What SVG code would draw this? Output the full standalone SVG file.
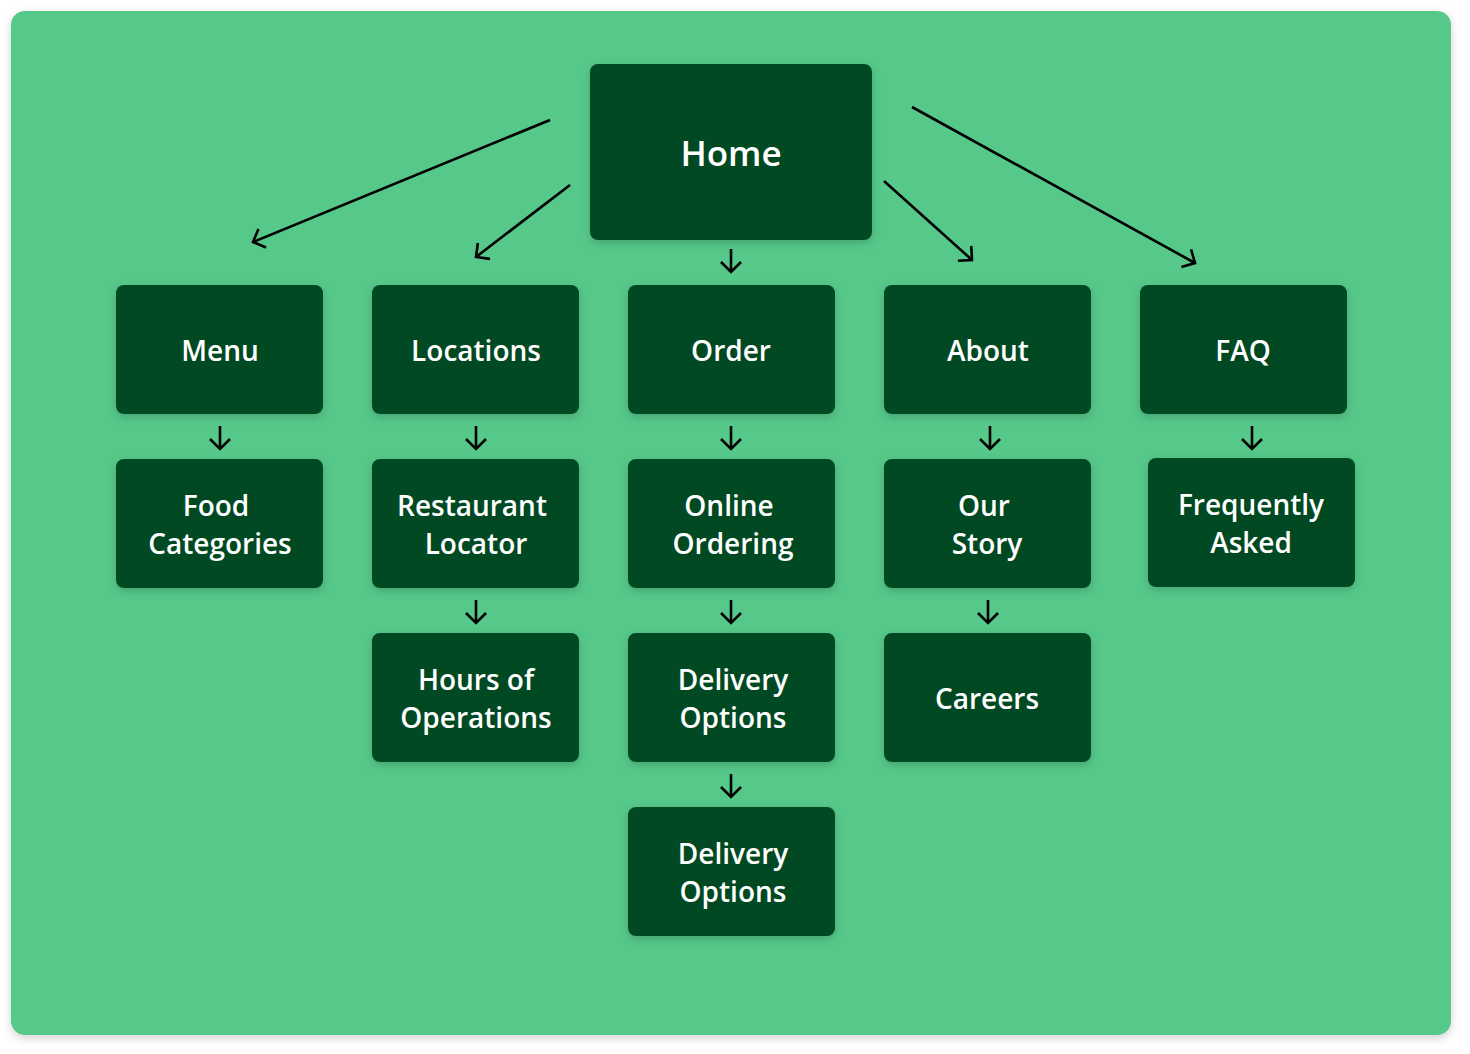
<svg xmlns="http://www.w3.org/2000/svg" width="1470" height="1054" viewBox="0 0 1470 1054">
<style>
.node rect{fill:#064A23;filter:url(#sh)}
.node text{fill:#FFFFFF;font-family:"Open Sans","Noto Sans",sans-serif;font-size:28px;font-weight:600;text-anchor:middle}
.edge{stroke:#000;stroke-width:2.6;fill:none;marker-end:url(#ah)}
</style>
<defs>
<filter id="sh" x="-20%" y="-20%" width="140%" height="150%">
<feDropShadow dx="0" dy="3" stdDeviation="4" flood-color="#000" flood-opacity="0.18"/>
</filter>
<filter id="bgsh" x="-5%" y="-5%" width="110%" height="110%">
<feDropShadow dx="0" dy="3" stdDeviation="5" flood-color="#000" flood-opacity="0.18"/>
</filter>
<marker id="ah" markerUnits="userSpaceOnUse" markerWidth="30" markerHeight="30" refX="15" refY="15" orient="auto" overflow="visible">
<path d="M5,5 L15,15 L5,25" fill="none" stroke="#000" stroke-width="2.6" stroke-linecap="butt" stroke-linejoin="miter"/>
</marker>
</defs>
<rect x="11" y="11" width="1440" height="1024" rx="14" fill="#57C88A" filter="url(#bgsh)"/>
<g id="connectors">
<line class="edge" x1="550" y1="120" x2="253" y2="242"/>
<line class="edge" x1="570" y1="185" x2="476" y2="257"/>
<line class="edge" x1="884" y1="181" x2="972" y2="260"/>
<line class="edge" x1="912" y1="107" x2="1195" y2="263"/>
<line class="edge" x1="731" y1="249" x2="731" y2="272"/>
<line class="edge" x1="220" y1="426" x2="220" y2="449"/>
<line class="edge" x1="476" y1="426" x2="476" y2="449"/>
<line class="edge" x1="731" y1="426" x2="731" y2="449"/>
<line class="edge" x1="990" y1="426" x2="990" y2="449"/>
<line class="edge" x1="1252" y1="426" x2="1252" y2="449"/>
<line class="edge" x1="476" y1="600" x2="476" y2="623"/>
<line class="edge" x1="731" y1="600" x2="731" y2="623"/>
<line class="edge" x1="988" y1="600" x2="988" y2="623"/>
<line class="edge" x1="731" y1="774" x2="731" y2="797"/>
</g>
<g id="home" class="node"><rect x="590" y="64" width="282" height="176" rx="8"/><text x="731" y="166" style="font-size:35px">Home</text></g>
<g id="menu" class="node"><rect x="116" y="285" width="207" height="129" rx="8"/><text x="220" y="361">Menu</text></g>
<g id="locations" class="node"><rect x="372" y="285" width="207" height="129" rx="8"/><text x="476" y="361">Locations</text></g>
<g id="order" class="node"><rect x="628" y="285" width="207" height="129" rx="8"/><text x="731" y="361">Order</text></g>
<g id="about" class="node"><rect x="884" y="285" width="207" height="129" rx="8"/><text x="988" y="361">About</text></g>
<g id="faq" class="node"><rect x="1140" y="285" width="207" height="129" rx="8"/><text x="1243" y="361">FAQ</text></g>
<g id="food" class="node"><rect x="116" y="459" width="207" height="129" rx="8"/><text x="216" y="516">Food</text><text x="220" y="554">Categories</text></g>
<g id="restaurant" class="node"><rect x="372" y="459" width="207" height="129" rx="8"/><text x="472" y="516">Restaurant</text><text x="476" y="554">Locator</text></g>
<g id="online" class="node"><rect x="628" y="459" width="207" height="129" rx="8"/><text x="729" y="516">Online</text><text x="733" y="554">Ordering</text></g>
<g id="story" class="node"><rect x="884" y="459" width="207" height="129" rx="8"/><text x="984" y="516">Our</text><text x="987" y="554">Story</text></g>
<g id="frequently" class="node"><rect x="1148" y="458" width="207" height="129" rx="8"/><text x="1251" y="515">Frequently</text><text x="1251" y="553">Asked</text></g>
<g id="hours" class="node"><rect x="372" y="633" width="207" height="129" rx="8"/><text x="476" y="690">Hours of</text><text x="476" y="728">Operations</text></g>
<g id="delivery1" class="node"><rect x="628" y="633" width="207" height="129" rx="8"/><text x="733" y="690">Delivery</text><text x="733" y="728">Options</text></g>
<g id="careers" class="node"><rect x="884" y="633" width="207" height="129" rx="8"/><text x="987" y="709">Careers</text></g>
<g id="delivery2" class="node"><rect x="628" y="807" width="207" height="129" rx="8"/><text x="733" y="864">Delivery</text><text x="733" y="902">Options</text></g>
</svg>
